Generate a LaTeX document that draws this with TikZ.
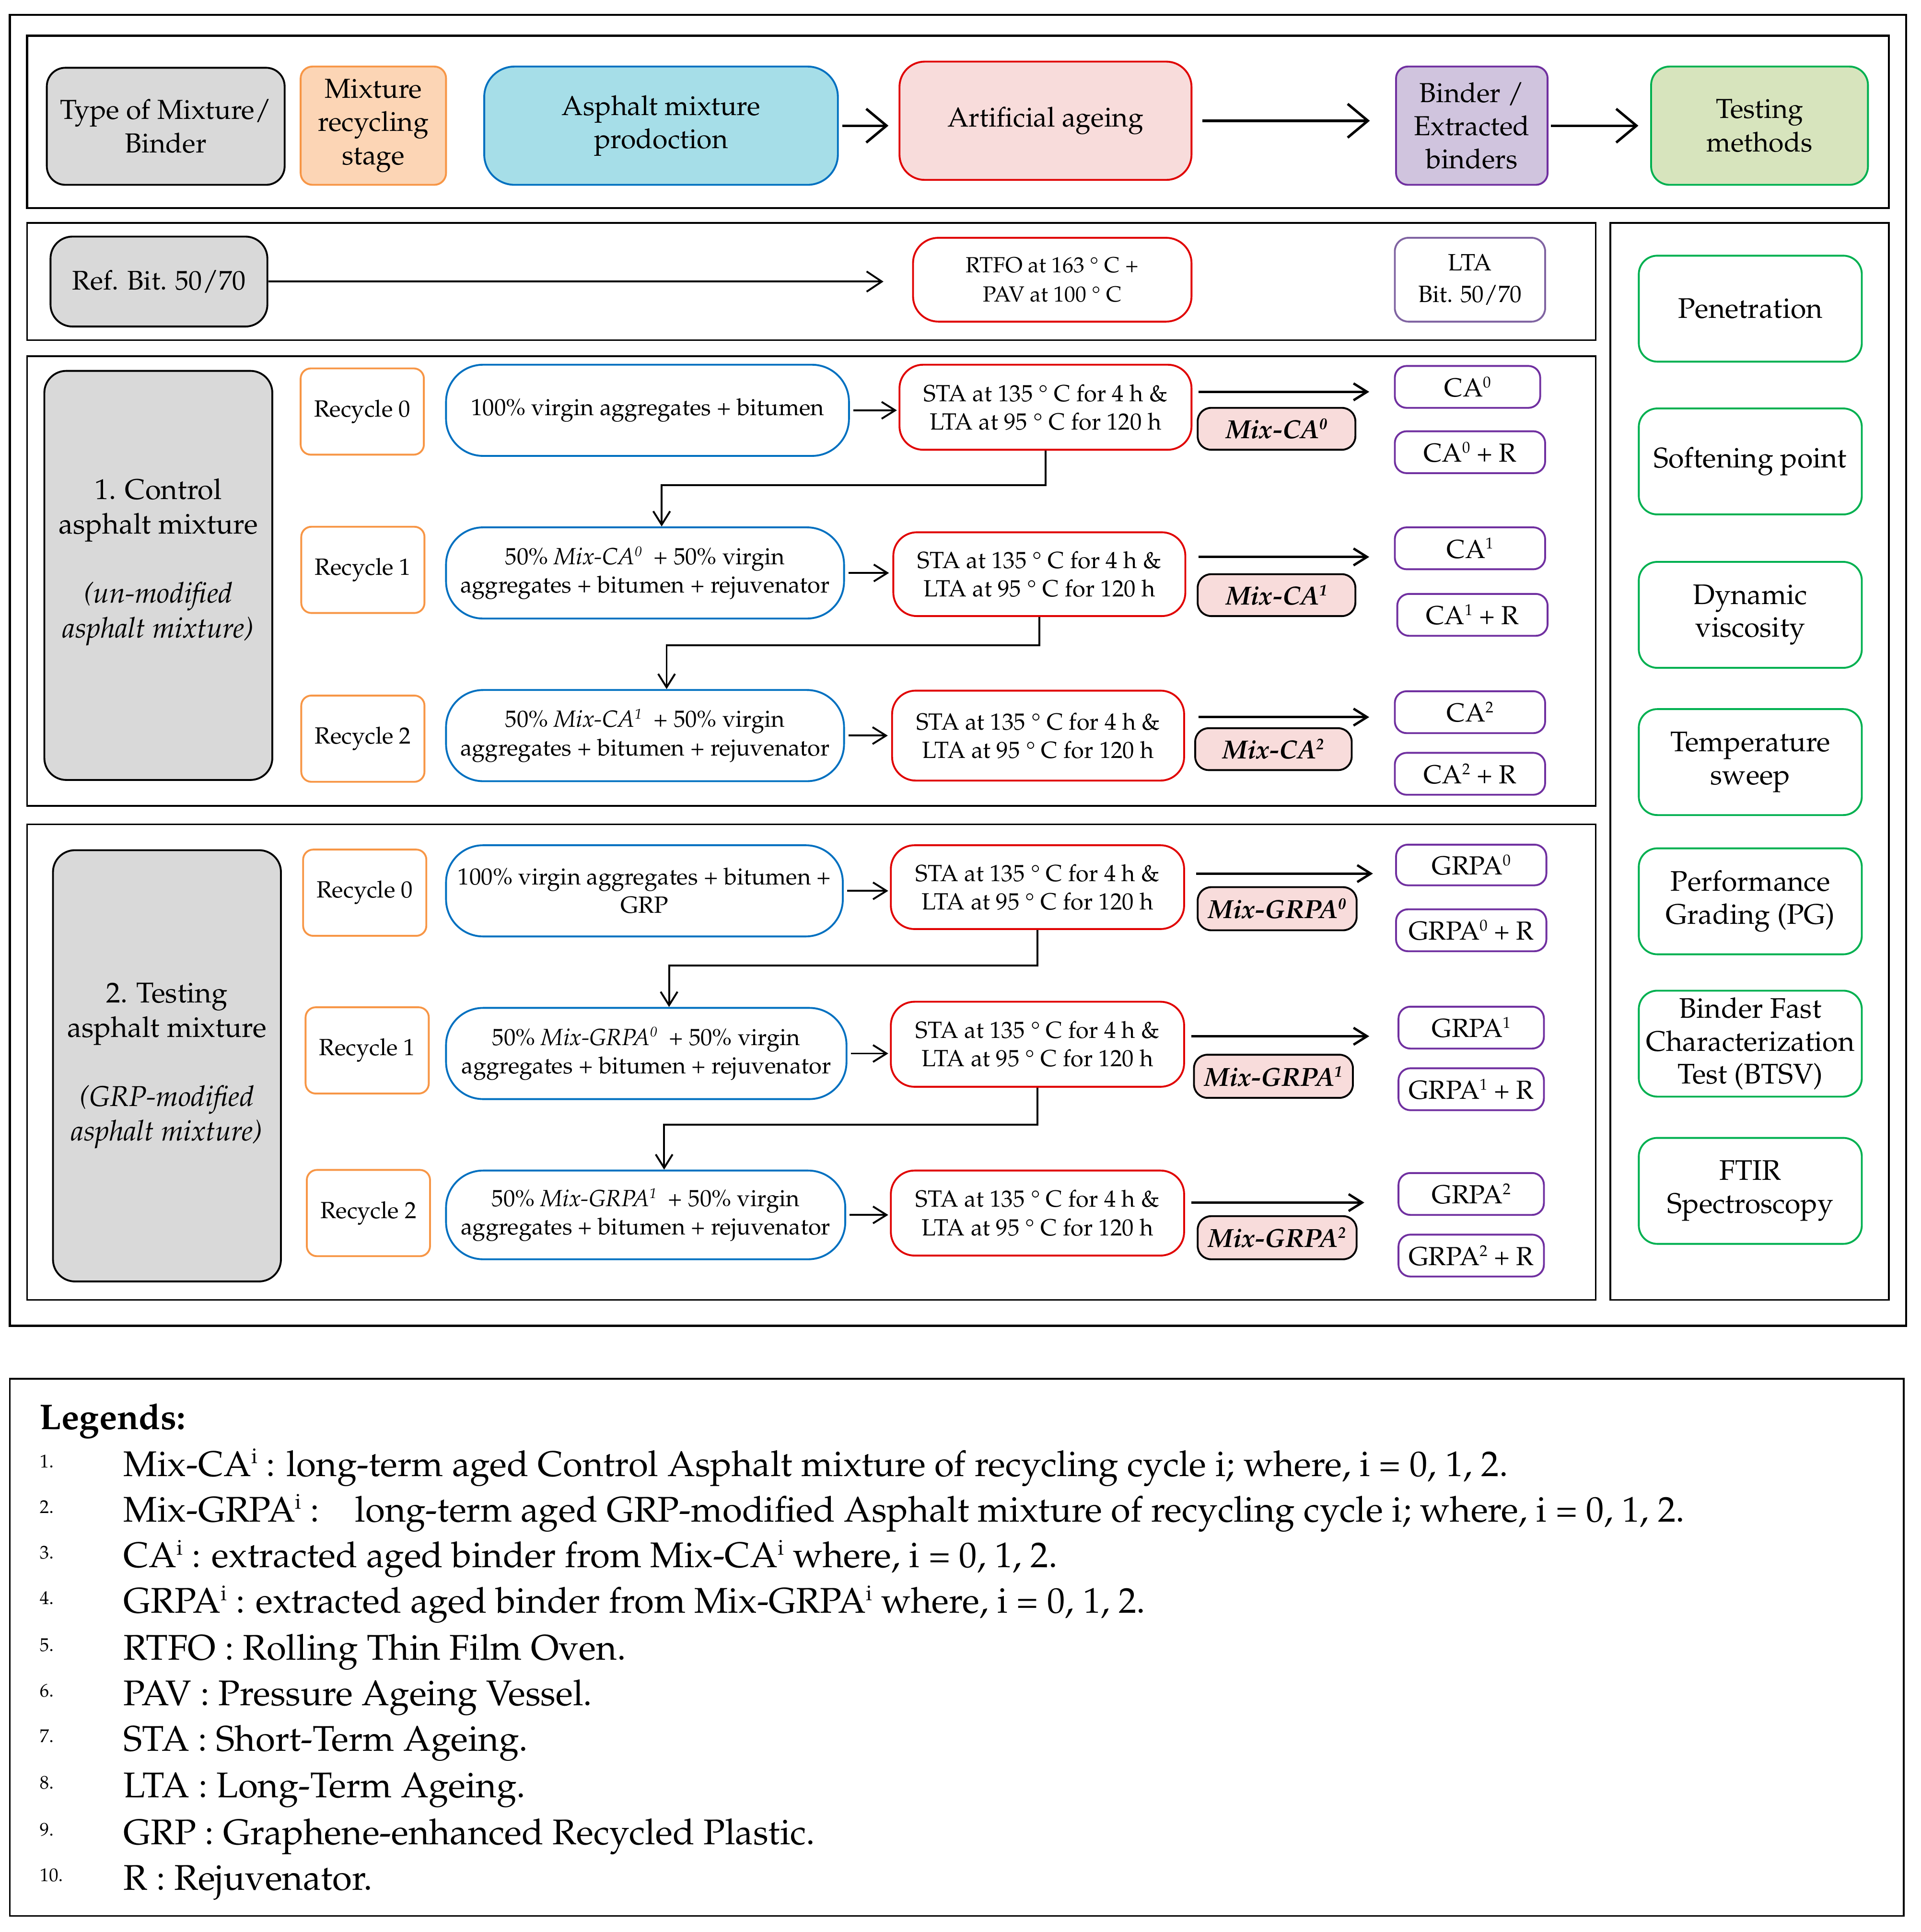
\documentclass[tikz,border=0pt]{standalone}
\usepackage[T1]{fontenc}
\usepackage{mathpazo}
\usepackage{tikz}
\usetikzlibrary{arrows.meta}

\newcommand{\unitpx}{0.0257cm}
\newcommand{\rowfont}{\fontsize{13.9}{16.8}\selectfont}
\newcommand{\sups}[1]{\raisebox{0.75ex}{\scalebox{0.6}{#1}}}
\newcommand{\agecycle}{STA at 135 \textdegree\ C for 4 h \&\\LTA at 95 \textdegree\ C for 120 h}

\definecolor{greyfill}{HTML}{D9D9D9}
\definecolor{orangefill}{HTML}{FCD5B5}
\definecolor{orangeline}{HTML}{F79646}
\definecolor{bluefill}{HTML}{A6DEE8}
\definecolor{blueline}{HTML}{0070C0}
\definecolor{pinkfill}{HTML}{F8DCDB}
\definecolor{redline}{HTML}{E00000}
\definecolor{lilacfill}{HTML}{D0C4DE}
\definecolor{purpleline}{HTML}{7030A0}
\definecolor{lilacline}{HTML}{8064A2}
\definecolor{greenfill}{HTML}{D7E4BD}
\definecolor{greenline}{HTML}{00B050}

\begin{document}
\begin{tikzpicture}[x=0.0257cm, y=-0.0257cm, >={Straight Barb[length=8pt,width=10pt]},
    secframe/.style={line width=1pt},
    box/.style={draw, align=center, inner sep=0pt, line width=1.1pt},
    sz/.style 2 args={minimum width=#1*\unitpx, minimum height=#2*\unitpx},
    hdr/.style={box, font=\fontsize{16.3}{19.7}\selectfont},
    sect/.style={box, fill=greyfill, rounded corners=13pt, sz={185}{332}, font=\fontsize{17}{20.5}\selectfont},
    recyc/.style={box, draw=orangeline, rounded corners=6pt, sz={100}{70}, font=\rowfont},
    blend/.style={box, draw=blueline, rounded corners=22pt, font=\rowfont},
    age/.style={box, draw=redline, rounded corners=14pt, font=\rowfont},
    mixlab/.style={box, fill=pinkfill, rounded corners=8pt, font=\fontsize{15.5}{18}\selectfont\bfseries\itshape},
    binder/.style={box, draw=purpleline, rounded corners=7pt, font=\fontsize{15.5}{18}\selectfont},
    test/.style={box, draw=greenline, rounded corners=11pt, sz={181}{86}, font=\fontsize{16.8}{19.5}\selectfont},
    link/.style={->, line width=1.1pt},
    outlink/.style={->, line width=1.4pt},
    big/.style={-{Straight Barb[length=12pt,width=20pt]}, line width=1.5pt},
    legtext/.style={anchor=base west, inner sep=0pt, font=\fontsize{21.2}{25}\selectfont},
    legnum/.style={anchor=base west, inner sep=0pt, font=\fontsize{11}{12}\selectfont}]
  \useasboundingbox (0,0) rectangle (1559,1568);

  % frames
  \draw[line width=1.2pt] (8,12) rectangle (1547,1076);
  \draw[line width=1.2pt] (22,29) rectangle (1533,169);
  \draw[secframe] (22,181) rectangle (1295,276);
  \draw[secframe] (22,289) rectangle (1295,654);
  \draw[secframe] (22,669) rectangle (1295,1055);
  \draw[secframe] (1307,181) rectangle (1533,1055);
  \draw[secframe] (8,1119) rectangle (1545,1555);

  % header row
  \node[hdr, sz={193}{95}, fill=greyfill, rounded corners=11pt] (type) at (134.5,102.5) {Type of Mixture/\\Binder};
  \node[hdr, sz={118}{96}, fill=orangefill, draw=orangeline, rounded corners=7pt] (stage) at (303,102) {Mixture\\recycling\\stage};
  \node[hdr, sz={287}{96}, fill=bluefill, draw=blueline, rounded corners=18pt] (prod) at (536.5,102) {Asphalt mixture\\prodoction};
  \node[hdr, sz={237}{96}, fill=pinkfill, draw=redline, rounded corners=15pt] (ageing) at (848.5,98) {Artificial ageing};
  \node[hdr, sz={123}{96}, fill=lilacfill, draw=purpleline, rounded corners=7pt] (binders) at (1194.5,102) {Binder /\\Extracted\\binders};
  \node[hdr, sz={176}{96}, fill=greenfill, draw=greenline, rounded corners=11pt] (testing) at (1428,102) {Testing\\methods};
  \draw[big, shorten <=2pt, shorten >=6pt] (prod.east) -- (prod.east -| ageing.west);
  \draw[big, shorten <=6pt, shorten >=15pt] (ageing.east) -- (ageing.east -| binders.west);
  \draw[big, shorten <=1.5pt, shorten >=7pt] (binders.east) -- (binders.east -| testing.west);

  % reference binder
  \node[hdr, sz={176}{73}, fill=greyfill, rounded corners=13pt, font=\fontsize{16}{19}\selectfont] (refbit) at (129,228.5) {Ref. Bit. 50/70};
  \node[box, draw=redline, rounded corners=15pt, sz={226}{68}, font=\fontsize{13}{17.5}\selectfont] (rtfo) at (854,227) {RTFO at 163 \textdegree\ C +\\PAV at 100 \textdegree\ C};
  \node[box, draw=lilacline, rounded corners=8pt, sz={122}{68}, font=\fontsize{14}{19}\selectfont] (ltaref) at (1193,227) {LTA\\Bit. 50/70};
  \draw[-{Straight Barb[length=9pt,width=12pt]}, line width=1.1pt, shorten >=17pt] (refbit.east) -- (refbit.east -| rtfo.west);

  % testing methods
  \node[test] (pen) at (1420.5,250.5) {Penetration};
  \node[test] (soft) at (1420.5,374.5) {Softening point};
  \node[test] (visc) at (1420.5,499) {Dynamic\\viscosity};
  \node[test] (temp) at (1420.5,618.5) {Temperature\\sweep};
  \node[test] (pg) at (1420.5,731.5) {Performance\\Grading (PG)};
  \node[test] (bfc) at (1420.5,847) {Binder Fast\\Characterization\\Test (BTSV)};
  \node[test] (ftir) at (1420.5,966.5) {FTIR\\Spectroscopy};

  % control asphalt mixture
  \node[sect] (ctrl) at (128.5,467) {1. Control\\asphalt mixture\\[20.5pt]\textit{(un-modified}\\\textit{asphalt mixture)}\\\mbox{}};
  \node[recyc] (rc0) at (294,334) {Recycle 0};
  \node[recyc] (rc1) at (294.5,462.5) {Recycle 1};
  \node[recyc] (rc2) at (294.5,599.5) {Recycle 2};
  \node[blend, sz={327}{74}] (bc0) at (525.5,333) {100\% virgin aggregates + bitumen};
  \node[blend, sz={323}{74}] (bc1) at (523.5,465) {50\% \textit{Mix-CA\sups{0}}\ \ + 50\% virgin\\aggregates + bitumen + rejuvenator};
  \node[blend, sz={323}{74}] (bc2) at (523.5,597) {50\% \textit{Mix-CA\sups{1}}\ \ + 50\% virgin\\aggregates + bitumen + rejuvenator};
  \node[age, sz={237}{69}] (ac0) at (848.5,330.5) {\agecycle};
  \node[age, sz={237}{68}] (ac1) at (843.5,466) {\agecycle};
  \node[age, sz={237}{73}] (ac2) at (842.5,597) {\agecycle};
  \node[mixlab, sz={128}{34}] (mc0) at (1036,348) {Mix-CA\sups{0}};
  \node[mixlab, sz={128}{34}] (mc1) at (1036,483) {Mix-CA\sups{1}};
  \node[mixlab, sz={127}{34}] (mc2) at (1033.5,608) {Mix-CA\sups{2}};
  \node[binder, sz={118}{34}] (ca0) at (1191,314) {CA\sups{0}};
  \node[binder, sz={122}{34}] (ca0r) at (1193,367) {CA\sups{0} + R};
  \node[binder, sz={122}{34}] (ca1) at (1193,445) {CA\sups{1}};
  \node[binder, sz={122}{34}] (ca1r) at (1195,499) {CA\sups{1}\ + R};
  \node[binder, sz={122}{34}] (ca2) at (1193,578) {CA\sups{2}};
  \node[binder, sz={122}{34}] (ca2r) at (1193,628) {CA\sups{2} + R};
  \draw[link, shorten <=2pt, shorten >=1pt] (bc0.east) -- (bc0.east -| ac0.west);
  \draw[link, shorten <=2pt, shorten >=2pt] (bc1.east) -- (bc1.east -| ac1.west);
  \draw[link, shorten <=2pt, shorten >=2pt] (bc2.east) -- (bc2.east -| ac2.west);
  \draw[link] (ac0.south) -- ++(0,28) -| ([shift={(13.5,0)}]bc1.north);
  \draw[link] (ac1.south) -- ++(0,23) -| ([shift={(17.5,0)}]bc2.north);
  \draw[outlink] ([shift={(5,-12.5)}]ac0.east) -- ([shift={(-20,4)}]ca0.west);
  \draw[outlink] ([shift={(10,-14)}]ac1.east) -- ([shift={(-20,7)}]ca1.west);
  \draw[outlink] ([shift={(11,-15)}]ac2.east) -- ([shift={(-20,4)}]ca2.west);

  % GRP-modified asphalt mixture
  \node[sect, sz={185}{350}] (grp) at (135.5,865) {2. Testing\\asphalt mixture\\[20.5pt]\textit{(GRP-modified}\\\textit{asphalt mixture)}};
  \node[recyc] (rg0) at (296,724.5) {Recycle 0};
  \node[recyc] (rg1) at (298,852.5) {Recycle 1};
  \node[recyc] (rg2) at (299,984.5) {Recycle 2};
  \node[blend, sz={322}{74}] (bg0) at (523,723) {100\% virgin aggregates + bitumen +\\GRP};
  \node[blend, sz={325}{74}] (bg1) at (524.5,855) {50\% \textit{Mix-GRPA\sups{0}}\ \ + 50\% virgin\\aggregates + bitumen + rejuvenator};
  \node[blend, sz={324}{72}] (bg2) at (524,986) {50\% \textit{Mix-GRPA\sups{1}}\ \ + 50\% virgin\\aggregates + bitumen + rejuvenator};
  \node[age, sz={238}{68}] (ag0) at (842,720) {\agecycle};
  \node[age, sz={238}{69}] (ag1) at (842,847.5) {\agecycle};
  \node[age, sz={238}{69}] (ag2) at (842,984.5) {\agecycle};
  \node[mixlab, sz={129}{35}] (mg0) at (1036.5,737.5) {Mix-GRPA\sups{0}};
  \node[mixlab, sz={129}{35}] (mg1) at (1033.5,873.5) {Mix-GRPA\sups{1}};
  \node[mixlab, sz={129}{35}] (mg2) at (1036.5,1004.5) {Mix-GRPA\sups{2}};
  \node[binder, sz={122}{33}] (gp0) at (1194,702) {GRPA\sups{0}};
  \node[binder, sz={122}{34}] (gp0r) at (1194,755) {GRPA\sups{0} + R};
  \node[binder, sz={118}{34}] (gp1) at (1194,834) {GRPA\sups{1}};
  \node[binder, sz={118}{34}] (gp1r) at (1194,884) {GRPA\sups{1} + R};
  \node[binder, sz={118}{34}] (gp2) at (1194,969) {GRPA\sups{2}};
  \node[binder, sz={118}{34}] (gp2r) at (1194,1019) {GRPA\sups{2} + R};
  \draw[link, shorten <=2pt, shorten >=1pt] (bg0.east) -- (bg0.east -| ag0.west);
  \draw[link, shorten <=2pt, shorten >=1pt] (bg1.east) -- (bg1.east -| ag1.west);
  \draw[link, shorten <=2pt, shorten >=1pt] (bg2.east) -- (bg2.east -| ag2.west);
  \draw[link] (ag0.south) -- ++(0,29) -| ([shift={(18.5,0)}]bg1.north);
  \draw[link] (ag1.south) -- ++(0,30) -| ([shift={(15,0)}]bg2.north);
  \draw[outlink] ([shift={(9,-11)}]ag0.east) -- ([shift={(-18,7)}]gp0.west);
  \draw[outlink] ([shift={(5,-6.5)}]ag1.east) -- ([shift={(-23,7)}]gp1.west);
  \draw[outlink] ([shift={(5,-8.5)}]ag2.east) -- ([shift={(-27,7)}]gp2.west);

  % legends
  \node[legtext, font=\fontsize{21.2}{25}\selectfont\bfseries] (leghead) at (32,1160) {Legends:};
  \node[legnum] (n1) at (32,1191) {1.};
  \node[legtext] (l1) at (100,1198) {Mix-CA\sups{i} : long-term aged Control Asphalt mixture of recycling cycle i; where, i = 0, 1, 2.};
  \node[legnum] (n2) at (32,1228) {2.};
  \node[legtext] (l2) at (100,1235) {Mix-GRPA\sups{i} :\quad long-term aged GRP-modified Asphalt mixture of recycling cycle i; where, i = 0, 1, 2.};
  \node[legnum] (n3) at (32,1265) {3.};
  \node[legtext] (l3) at (100,1272) {CA\sups{i} : extracted aged binder from Mix-CA\sups{i} where, i = 0, 1, 2.};
  \node[legnum] (n4) at (32,1302) {4.};
  \node[legtext] (l4) at (100,1309) {GRPA\sups{i} : extracted aged binder from Mix-GRPA\sups{i} where, i = 0, 1, 2.};
  \node[legnum] (n5) at (32,1340) {5.};
  \node[legtext] (l5) at (100,1347) {RTFO : Rolling Thin Film Oven.};
  \node[legnum] (n6) at (32,1377) {6.};
  \node[legtext] (l6) at (100,1384) {PAV : Pressure Ageing Vessel.};
  \node[legnum] (n7) at (32,1414) {7.};
  \node[legtext] (l7) at (100,1421) {STA : Short-Term Ageing.};
  \node[legnum] (n8) at (32,1452) {8.};
  \node[legtext] (l8) at (100,1459) {LTA : Long-Term Ageing.};
  \node[legnum] (n9) at (32,1490) {9.};
  \node[legtext] (l9) at (100,1497) {GRP : Graphene-enhanced Recycled Plastic.};
  \node[legnum] (n10) at (32,1527) {10.};
  \node[legtext] (l10) at (100,1534) {R : Rejuvenator.};
\end{tikzpicture}
\end{document}
